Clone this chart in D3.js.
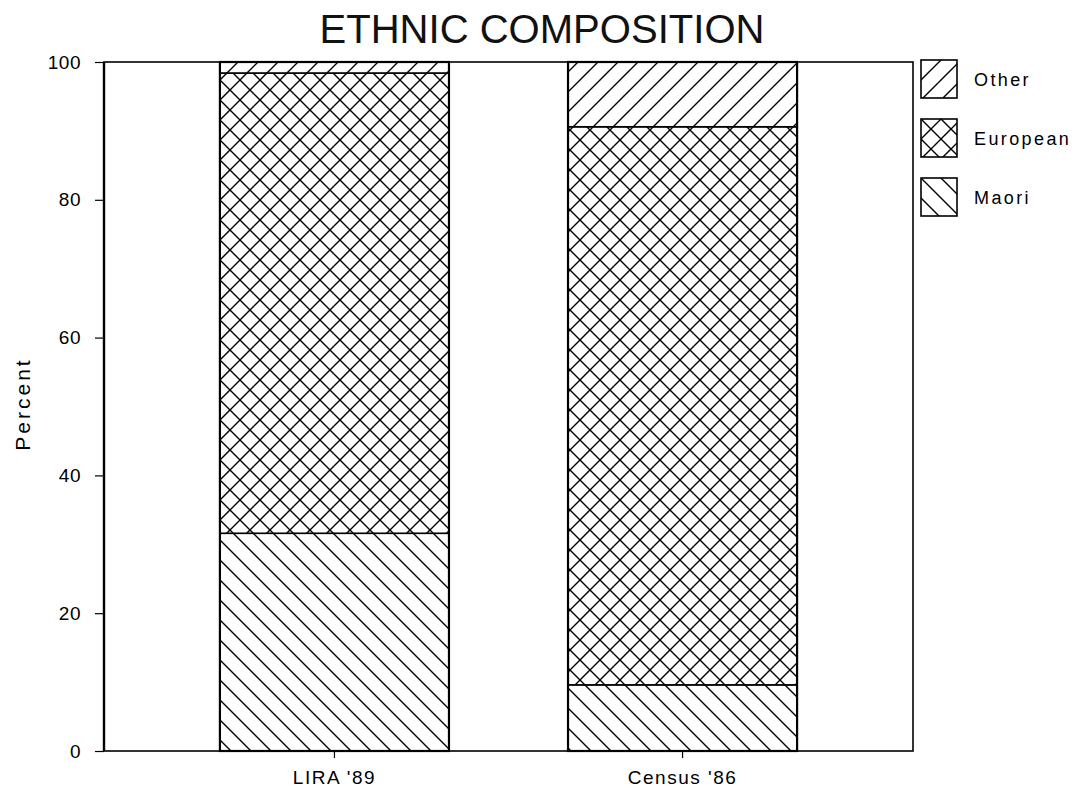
<!DOCTYPE html>
<html>
<head>
<meta charset="utf-8">
<script src="https://cdn.jsdelivr.net/npm/d3@7"></script>
<style>
  html, body { margin: 0; padding: 0; background: #fff; }
  svg { display: block; font-family: "Liberation Sans", Arial, sans-serif; }
</style>
</head>
<body>
<svg id="chart" width="1087" height="794"></svg>
<script>
// ---- Data ----
const categories = ["LIRA '89", "Census '86"];
const maori = [31.6, 9.6];
const european = [66.8, 81.0];
const other = [1.6, 9.4];
const seriesKeys = ["Maori", "European", "Other"];
const legendOrder = ["Other", "European", "Maori"];
const yTicks = [0, 20, 40, 60, 80, 100];
const title = "ETHNIC COMPOSITION";
const yLabel = "Percent";

const rows = categories.map((c, i) => ({ cat: c, Maori: maori[i], European: european[i], Other: other[i] }));

// ---- Layout ----
const svg = d3.select("#chart");
const plotL = 104, plotR = 913, plotT = 62, plotB = 751;

const x = d3.scaleBand().domain(categories).range([plotL, plotR]).paddingInner(0.342).paddingOuter(0.333);
const y = d3.scaleLinear().domain([0, 100]).range([plotB, plotT]);

// ---- Patterns ----
const defs = svg.append("defs");
function hatch(id, kind) {
  const s = 20;
  const p = defs.append("pattern").attr("id", id).attr("patternUnits", "userSpaceOnUse")
    .attr("width", s).attr("height", s);
  p.append("rect").attr("width", s).attr("height", s).attr("fill", "#fff");
  function line(d) {
    p.append("path").attr("d", d).attr("stroke", "#000").attr("stroke-width", 1.4).attr("fill", "none");
  }
  if (kind === "fwd" || kind === "cross") line(`M0,${s} L${s},0 M-5,5 L5,-5 M${s-5},${s+5} L${s+5},${s-5}`);
  if (kind === "back" || kind === "cross") line(`M0,0 L${s},${s} M-5,${s-5} L5,${s+5} M${s-5},-5 L${s+5},5`);
}
hatch("pat-Other", "fwd");
hatch("pat-European", "cross");
hatch("pat-Maori", "back");

// ---- Stacked bars ----
const stacked = d3.stack().keys(seriesKeys)(rows);
const g = svg.append("g");
stacked.forEach(layer => {
  g.selectAll(null).data(layer).enter().append("rect")
    .attr("x", d => x(d.data.cat))
    .attr("width", x.bandwidth())
    .attr("y", d => y(d[1]))
    .attr("height", d => y(d[0]) - y(d[1]))
    .attr("fill", `url(#pat-${layer.key})`)
    .attr("stroke", "#000")
    .attr("stroke-width", 1.6);
});
g.selectAll(null).data(rows).enter().append("rect")
  .attr("x", d => x(d.cat))
  .attr("width", x.bandwidth())
  .attr("y", d => y(d.Maori + d.European + d.Other))
  .attr("height", d => y(0) - y(d.Maori + d.European + d.Other))
  .attr("fill", "none").attr("stroke", "#000").attr("stroke-width", 2.2);

// ---- Frame ----
svg.append("rect").attr("x", plotL).attr("y", plotT).attr("width", plotR - plotL).attr("height", plotB - plotT)
  .attr("fill", "none").attr("stroke", "#000").attr("stroke-width", 1.6);
svg.append("line").attr("x1", plotL).attr("x2", plotL).attr("y1", plotT).attr("y2", plotB)
  .attr("stroke", "#000").attr("stroke-width", 2.4);

// ---- Axes ----
const yAxis = svg.append("g").attr("transform", `translate(${plotL},0)`)
  .call(d3.axisLeft(y).tickValues(yTicks).tickSize(9).tickPadding(14).tickFormat(d3.format("d")));
yAxis.select(".domain").remove();
yAxis.selectAll(".tick line").attr("stroke", "#000").attr("stroke-width", 1.2);
yAxis.selectAll("text").attr("font-size", 19).attr("letter-spacing", 0.5).attr("fill", "#000")
  .attr("font-family", "Liberation Sans, Arial, sans-serif");

const xAxis = svg.append("g").attr("transform", `translate(0,${plotB})`)
  .call(d3.axisBottom(x).tickSize(7).tickPadding(13));
xAxis.select(".domain").remove();
xAxis.selectAll(".tick line").attr("stroke", "#000").attr("stroke-width", 1.2);
xAxis.selectAll("text").attr("font-size", 19).attr("letter-spacing", 1.5).attr("fill", "#000")
  .attr("font-family", "Liberation Sans, Arial, sans-serif");

// ---- Title & labels ----
svg.append("text").attr("x", 542).attr("y", 43).attr("text-anchor", "middle")
  .attr("font-size", 41).attr("textLength", 445).attr("lengthAdjust", "spacingAndGlyphs")
  .attr("fill", "#111").text(title);

svg.append("text").attr("transform", "translate(30,404) rotate(-90)").attr("text-anchor", "middle")
  .attr("font-size", 21).attr("letter-spacing", 3).attr("fill", "#000").text(yLabel);

// ---- Legend ----
const legend = svg.append("g").attr("transform", "translate(921,60)");
legendOrder.forEach((k, i) => {
  const lg = legend.append("g").attr("transform", `translate(0,${i * 59})`);
  lg.append("rect").attr("x", 0).attr("y", 0).attr("width", 36).attr("height", 38)
    .attr("fill", `url(#pat-${k})`).attr("stroke", "#000").attr("stroke-width", 1.6);
  lg.append("text").attr("x", 53).attr("y", 26).attr("font-size", 18).attr("letter-spacing", 2.4)
    .attr("fill", "#000").text(k);
});
</script>
</body>
</html>
